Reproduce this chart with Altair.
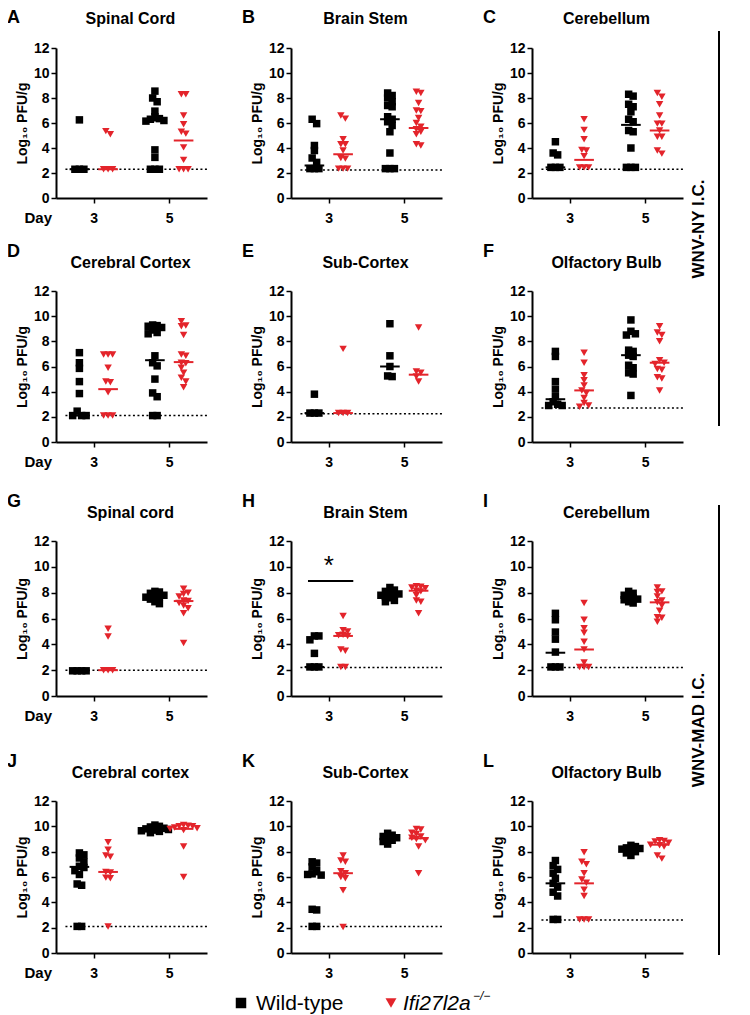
import altair as alt
import pandas as pd

# ------------------------------------------------------------------ data
# values are log10 PFU/g; *_med = drawn median bars
# order of medians: WT day3, KO day3, WT day5, KO day5
A_lod = 2.3
A_wt3 = [6.25, 2.3, 2.3, 2.3]
A_ko3 = [5.35, 5.1, 2.3, 2.3, 2.3]
A_wt5 = [8.55, 8.0, 7.7, 6.95, 6.5, 6.35, 6.3, 6.2, 6.15, 3.85, 3.25, 2.3, 2.3, 2.3]
A_ko5 = [8.3, 8.3, 6.6, 5.9, 5.3, 5.15, 4.05, 3.05, 2.3, 2.3, 2.3]
A_med = [2.3, 2.3, 6.2, 4.6]

B_lod = 2.25
B_wt3 = [6.3, 5.95, 4.2, 3.8, 3.2, 2.85, 2.35, 2.35, 2.35]
B_ko3 = [6.6, 6.35, 4.7, 4.3, 4.3, 3.8, 3.2, 3.15, 2.35, 2.35, 2.35]
B_wt5 = [8.4, 8.2, 8.0, 7.7, 7.4, 7.3, 6.5, 6.3, 6.1, 5.8, 5.3, 3.6, 2.35, 2.35, 2.35]
B_ko5 = [8.5, 8.4, 7.6, 7.0, 6.95, 6.4, 6.0, 5.7, 5.5, 5.3, 5.1, 4.3, 4.2]
B_med = [2.6, 3.5, 6.3, 5.6]

C_lod = 2.3
C_wt3 = [4.5, 3.6, 3.45, 2.45, 2.45, 2.45]
C_ko3 = [6.3, 5.45, 4.7, 3.85, 3.8, 3.35, 2.45, 2.45, 2.45]
C_wt5 = [8.3, 8.15, 7.5, 7.3, 6.9, 6.3, 6.1, 5.4, 5.3, 4.0, 2.45, 2.45, 2.45]
C_ko5 = [8.4, 8.1, 7.5, 6.6, 5.95, 5.95, 5.4, 4.9, 4.9, 3.8, 3.55]
C_med = [2.45, 3.05, 5.85, 5.4]

D_lod = 2.1
D_wt3 = [7.1, 6.3, 5.85, 4.8, 3.85, 2.45, 2.1, 2.1, 2.1]
D_ko3 = [6.95, 6.95, 6.95, 5.9, 4.8, 4.75, 3.95, 2.1, 2.1, 2.1]
D_wt5 = [9.3, 9.25, 9.2, 9.1, 8.9, 8.7, 8.6, 6.85, 6.3, 6.05, 5.0, 3.9, 3.6, 2.1, 2.1]
D_ko5 = [9.6, 9.25, 9.2, 8.5, 6.95, 6.85, 6.3, 6.25, 5.9, 5.5, 5.1, 4.8, 4.35]
D_med = [2.1, 4.2, 6.5, 6.35]

E_lod = 2.25
E_wt3 = [3.8, 2.3, 2.3, 2.3]
E_ko3 = [7.4, 2.3, 2.3, 2.3]
E_wt5 = [9.4, 6.85, 6.0, 5.25, 5.2]
E_ko5 = [9.1, 5.6, 5.5, 5.2, 4.8]
E_med = [2.3, 2.3, 6.0, 5.35]

F_lod = 2.7
F_wt3 = [7.2, 6.8, 4.8, 4.2, 3.6, 3.2, 3.0, 2.9, 2.9]
F_ko3 = [7.1, 6.3, 5.3, 4.9, 4.5, 4.1, 3.9, 3.5, 3.1, 2.9, 2.8]
F_wt5 = [9.7, 8.8, 8.6, 8.5, 7.3, 7.2, 6.9, 6.8, 6.1, 5.9, 5.5, 5.4, 3.7]
F_ko5 = [9.2, 8.7, 8.5, 8.0, 6.5, 6.3, 6.2, 5.8, 5.75, 5.15, 5.05, 4.1]
F_med = [3.4, 4.1, 6.9, 6.3]

G_lod = 2.0
G_wt3 = [1.95, 1.95, 1.95, 1.95]
G_ko3 = [5.2, 4.6, 2.0, 2.0, 2.0]
G_wt5 = [8.1, 8.05, 7.95, 7.8, 7.75, 7.7, 7.65, 7.5, 7.3, 7.15]
G_ko5 = [8.3, 8.0, 7.9, 7.7, 7.4, 7.35, 7.2, 7.0, 6.8, 6.4, 4.1]
G_med = [1.95, 2.0, 7.75, 7.35]

H_lod = 2.2
H_wt3 = [4.65, 4.65, 4.35, 3.3, 2.25, 2.25, 2.25]
H_ko3 = [6.2, 5.1, 5.0, 4.75, 4.7, 4.65, 3.6, 3.5, 2.25, 2.25]
H_wt5 = [8.4, 8.2, 8.1, 8.0, 7.9, 7.85, 7.8, 7.7, 7.6, 7.4, 7.3]
H_ko5 = [8.5, 8.45, 8.4, 8.35, 8.15, 8.1, 7.8, 7.4, 7.3, 6.4]
H_med = [2.25, 4.65, 7.85, 8.15]
H_sig_star = "*"
H_sig_y = 8.9

I_lod = 2.2
I_wt3 = [6.4, 5.9, 4.95, 4.4, 3.4, 2.25, 2.25, 2.25]
I_ko3 = [7.2, 5.9, 5.25, 4.9, 4.2, 3.6, 2.6, 2.25, 2.25, 2.25]
I_wt5 = [8.1, 7.95, 7.8, 7.7, 7.6, 7.5, 7.45, 7.3, 7.2]
I_ko5 = [8.4, 8.1, 8.05, 7.7, 7.4, 7.25, 7.0, 6.6, 6.1, 6.05, 5.75]
I_med = [3.35, 3.6, 7.65, 7.25]

J_lod = 2.1
J_wt3 = [7.9, 7.75, 7.5, 7.2, 6.85, 6.75, 6.5, 6.2, 5.45, 5.35, 2.1, 2.1]
J_ko3 = [8.75, 8.15, 7.7, 7.6, 6.4, 6.35, 5.95, 5.9, 2.1]
J_wt5 = [10.1, 10.0, 9.95, 9.85, 9.8, 9.75, 9.7, 9.65, 9.6, 9.5]
J_ko5 = [10.1, 10.05, 10.0, 10.0, 9.9, 9.85, 9.8, 9.7, 8.4, 6.0]
J_med = [6.8, 6.4, 9.75, 9.8]

K_lod = 2.1
K_wt3 = [7.2, 7.1, 6.8, 6.5, 6.25, 6.2, 6.15, 3.45, 3.4, 2.1, 2.1]
K_ko3 = [7.7, 7.3, 7.2, 6.45, 6.3, 6.0, 5.9, 4.95, 2.05]
K_wt5 = [9.45, 9.3, 9.2, 9.1, 9.0, 8.9, 8.8, 8.6]
K_ko5 = [9.8, 9.75, 9.5, 9.4, 9.2, 9.1, 9.0, 8.9, 8.4, 6.3]
K_med = [6.2, 6.3, 9.05, 9.05]

L_lod = 2.6
L_wt3 = [7.3, 6.9, 6.6, 6.3, 5.9, 5.5, 5.2, 4.8, 4.5, 2.65, 2.65]
L_ko3 = [7.95, 7.2, 7.0, 6.3, 5.8, 5.55, 5.0, 4.5, 2.65, 2.65, 2.65]
L_wt5 = [8.5, 8.4, 8.3, 8.25, 8.2, 8.1, 8.0, 7.9, 7.7]
L_ko5 = [8.9, 8.85, 8.8, 8.7, 8.55, 8.5, 8.4, 7.7, 7.45]
L_med = [5.5, 5.5, 8.2, 8.55]

LETTERS = ["A", "B", "C", "D", "E", "F", "G", "H", "I", "J", "K", "L"]
TITLES = ["Spinal Cord", "Brain Stem", "Cerebellum",
          "Cerebral Cortex", "Sub-Cortex", "Olfactory Bulb",
          "Spinal cord", "Brain Stem", "Cerebellum",
          "Cerebral cortex", "Sub-Cortex", "Olfactory Bulb"]
DAY_LABELS = ["3", "5"]
SIDE_LABELS = ["WNV-NY I.C.", "WNV-MAD I.C."]
LEGEND_LABELS = ["Wild-type", "Ifi27l2a", "\u2212/\u2212"]
Y_TITLE = "Log\u2081\u2080 PFU/g"

# ------------------------------------------------------------------ style
FONT = "Liberation Sans"
RED = "#E3242B"
W = 151
ROW_H = [150, 151, 155, 152]
LETTER_Y = [-30, -39, -39, -39]
TITLE_Y = [-29, -28, -28, -28]
UX = W / 4.0
CENTER = {("WT", 3): 0.62, ("KO", 3): 1.38, ("WT", 5): 2.62, ("KO", 5): 3.38}
GROUPS = [("WT", 3), ("KO", 3), ("WT", 5), ("KO", 5)]


def swarm(vals, uy, step=4.5, box=4.5):
    """column-scatter layout: spread points that would overlap"""
    n = len(vals)
    order = sorted(range(n), key=lambda i: -vals[i])
    xs = [0.0] * n
    placed = []
    cands = [0.0]
    for j in range(1, 40):
        cands += [j * step, -j * step]
    for i in order:
        y = vals[i] * uy
        chosen = 0.0
        for c in cands:
            if all(abs(c - px) >= box - 1e-9 or abs(y - py) >= box for px, py in placed):
                chosen = c
                break
        xs[i] = chosen
        placed.append((chosen, y))
    seen = set()
    for i in range(n):
        if i in seen:
            continue
        comp, stack = [], [i]
        seen.add(i)
        while stack:
            k = stack.pop()
            comp.append(k)
            for m in range(n):
                if m not in seen and abs(vals[m] - vals[k]) * uy < box:
                    seen.add(m)
                    stack.append(m)
        lo = min(xs[k] for k in comp)
        hi = max(xs[k] for k in comp)
        mid = (lo + hi) / 2.0
        for k in comp:
            xs[k] -= mid
    return xs


xscale = alt.Scale(domain=[0, 4], nice=False, zero=False)
yscale = alt.Scale(domain=[0, 12], nice=False, zero=True)
xaxis = alt.Axis(values=[1, 3], labelExpr="datum.value == 1 ? '%s' : '%s'" % tuple(DAY_LABELS),
                 title=None, grid=False, domainColor="black", domainWidth=2,
                 tickColor="black", tickWidth=1.5, tickSize=5, labelFont=FONT,
                 labelFontSize=14, labelFontWeight="bold", labelColor="black",
                 labelPadding=8, labelAngle=0)
yaxis = alt.Axis(values=[0, 2, 4, 6, 8, 10, 12], title=Y_TITLE, grid=False,
                 domainColor="black", domainWidth=2, tickColor="black", tickWidth=1.5,
                 tickSize=5, labelFont=FONT, labelFontSize=14, labelFontWeight="bold",
                 labelColor="black", labelPadding=2, titleFont=FONT, titleFontSize=14,
                 titleFontWeight="bold", titleColor="black", titlePadding=4)
color = alt.Color("geno:N", scale=alt.Scale(domain=["WT", "KO"], range=["black", RED]), legend=None)
shape = alt.Shape("geno:N", scale=alt.Scale(domain=["WT", "KO"], range=["square", "triangle-down"]),
                  legend=None)


def X(field="x"):
    return alt.X(field + ":Q", scale=xscale, axis=xaxis)


def Y(field="y"):
    return alt.Y(field + ":Q", scale=yscale, axis=yaxis)


def panel(idx, lod, wt3, ko3, wt5, ko5, med, star=None):
    r = idx // 3
    h = ROW_H[r]
    uy = h / 12.0
    rows = []
    for (g, d), vals in zip(GROUPS, [wt3, ko3, wt5, ko5]):
        offs = swarm(vals, uy)
        for v, o in zip(vals, offs):
            rows.append({"geno": g, "x": CENTER[(g, d)] + o / UX, "y": v})
    pts = pd.DataFrame(rows)
    meds = pd.DataFrame([{"geno": g, "x": CENTER[(g, d)] - 0.26, "x2": CENTER[(g, d)] + 0.26, "y": m}
                         for (g, d), m in zip(GROUPS, med)])
    lodf = pd.DataFrame([{"x": 0.25, "x2": 4.0, "y": lod}])

    lod_l = alt.Chart(lodf).mark_rule(color="black", strokeWidth=1.5, strokeDash=[2, 2.5]).encode(
        x=X(), x2="x2:Q", y=Y())
    pts_l = alt.Chart(pts).mark_point(filled=True, size=56, opacity=1, strokeWidth=0).encode(
        x=X(), y=Y(), color=color, shape=shape)
    med_l = alt.Chart(meds).mark_rule(strokeWidth=2).encode(x=X(), x2="x2:Q", y=Y(), color=color)

    lab = pd.DataFrame([{"letter": LETTERS[idx], "title": TITLES[idx], "day": "Day"}])
    letter_l = alt.Chart(lab).mark_text(align="left", baseline="middle", font=FONT, fontSize=18,
                                        fontWeight="bold", color="black").encode(
        x=alt.value(-49), y=alt.value(LETTER_Y[r]), text="letter:N")
    title_l = alt.Chart(lab).mark_text(align="center", baseline="middle", font=FONT, fontSize=16,
                                       fontWeight="bold", color="black").encode(
        x=alt.value(W / 2 - 1), y=alt.value(TITLE_Y[r]), text="title:N")
    layers = [lod_l, med_l, pts_l, letter_l, title_l]
    if idx % 3 == 0:
        layers.append(alt.Chart(lab).mark_text(align="right", baseline="middle", font=FONT, fontSize=15,
                                               fontWeight="bold", color="black").encode(
            x=alt.value(-4), y=alt.value(h + 20), text="day:N"))
    if star is not None:
        sdf = pd.DataFrame([{"x": 0.45, "x2": 1.65, "y": star[1], "sx": 1.0, "sy": star[1] + 1.2,
                             "t": star[0]}])
        layers.append(alt.Chart(sdf).mark_rule(color="black", strokeWidth=2).encode(
            x=X(), x2="x2:Q", y=Y()))
        layers.append(alt.Chart(sdf).mark_text(font=FONT, fontSize=26, color="black",
                                               baseline="middle").encode(
            x=X("sx"), y=Y("sy"), text="t:N"))
    return alt.layer(*layers).properties(width=W, height=h)


def side(label, y0, y1, ymid, h):
    df = pd.DataFrame([{"t": label}])
    rule = alt.Chart(df).mark_rule(color="black", strokeWidth=2).encode(
        x=alt.value(35), y=alt.value(y0), y2=alt.value(y1))
    text = alt.Chart(df).mark_text(angle=270, font=FONT, fontSize=17, fontWeight="bold",
                                   color="black", align="center", baseline="middle").encode(
        x=alt.value(15), y=alt.value(ymid), text="t:N")
    return alt.layer(rule, text).properties(width=40, height=h)


P = [
    panel(0, A_lod, A_wt3, A_ko3, A_wt5, A_ko5, A_med),
    panel(1, B_lod, B_wt3, B_ko3, B_wt5, B_ko5, B_med),
    panel(2, C_lod, C_wt3, C_ko3, C_wt5, C_ko5, C_med),
    panel(3, D_lod, D_wt3, D_ko3, D_wt5, D_ko5, D_med),
    panel(4, E_lod, E_wt3, E_ko3, E_wt5, E_ko5, E_med),
    panel(5, F_lod, F_wt3, F_ko3, F_wt5, F_ko5, F_med),
    panel(6, G_lod, G_wt3, G_ko3, G_wt5, G_ko5, G_med),
    panel(7, H_lod, H_wt3, H_ko3, H_wt5, H_ko5, H_med, star=(H_sig_star, H_sig_y)),
    panel(8, I_lod, I_wt3, I_ko3, I_wt5, I_ko5, I_med),
    panel(9, J_lod, J_wt3, J_ko3, J_wt5, J_ko5, J_med),
    panel(10, K_lod, K_wt3, K_ko3, K_wt5, K_ko5, K_med),
    panel(11, L_lod, L_wt3, L_ko3, L_wt5, L_ko5, L_med),
]

rows = [alt.hconcat(alt.hconcat(P[i], P[i + 1], spacing=34), P[i + 2], spacing=40)
        for i in range(0, 12, 3)]
block1 = alt.hconcat(alt.vconcat(rows[0], rows[1], spacing=17),
                     side(SIDE_LABELS[0], -17, 378, 181, 380), spacing=0)
block2 = alt.hconcat(alt.vconcat(rows[2], rows[3], spacing=29),
                     side(SIDE_LABELS[1], -36, 414, 189, 416), spacing=0)

ldf = pd.DataFrame([{"a": LEGEND_LABELS[0], "b": LEGEND_LABELS[1], "c": LEGEND_LABELS[2]}])
legend = alt.layer(
    alt.Chart(ldf).mark_point(shape="square", filled=True, size=110, color="black", opacity=1).encode(
        x=alt.value(185), y=alt.value(12)),
    alt.Chart(ldf).mark_text(align="left", baseline="middle", font=FONT, fontSize=21, color="black").encode(
        x=alt.value(200), y=alt.value(13), text="a:N"),
    alt.Chart(ldf).mark_point(shape="triangle-down", filled=True, size=120, color=RED, opacity=1).encode(
        x=alt.value(335), y=alt.value(12)),
    alt.Chart(ldf).mark_text(align="left", baseline="middle", font=FONT, fontSize=21, fontStyle="italic",
                             color="black").encode(x=alt.value(347), y=alt.value(13), text="b:N"),
    alt.Chart(ldf).mark_text(align="left", baseline="middle", font=FONT, fontSize=12, fontStyle="italic",
                             color="black").encode(x=alt.value(417), y=alt.value(5), text="c:N"),
).properties(width=600, height=24)

chart = alt.vconcat(alt.vconcat(block1, block2, spacing=23), legend, spacing=9).properties(
    padding={"top": 1, "left": -1, "right": 0, "bottom": 0}, background="white"
).configure_view(stroke=None, strokeWidth=0)

chart.save("out.html", embed_options={"renderer": "svg", "actions": False})
